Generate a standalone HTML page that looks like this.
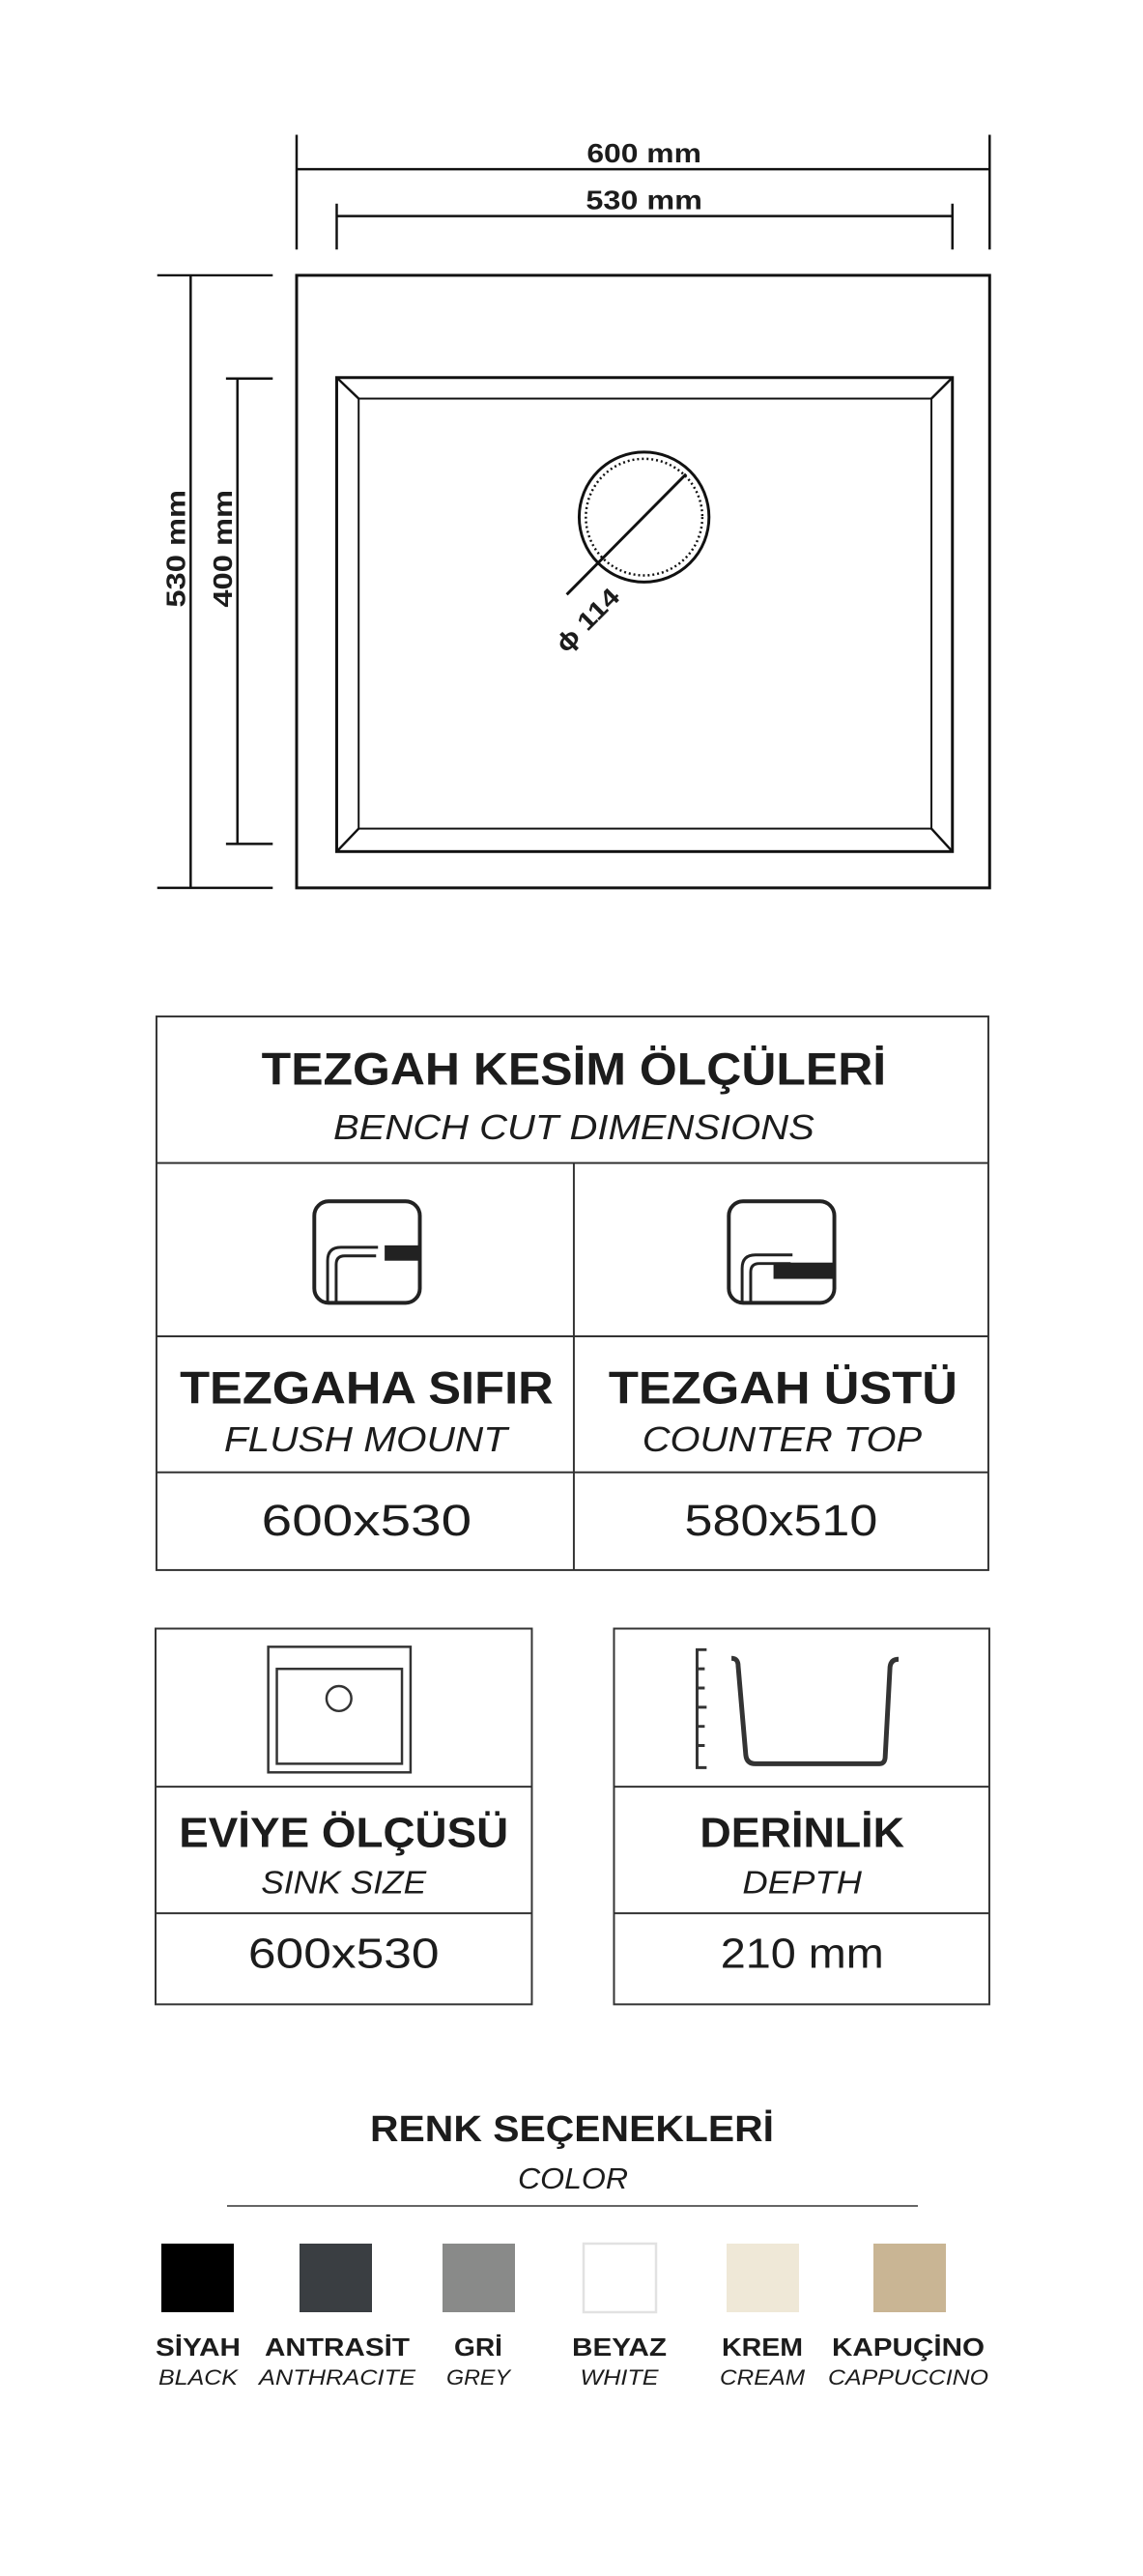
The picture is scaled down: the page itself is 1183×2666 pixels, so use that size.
<!DOCTYPE html>
<html><head><meta charset="utf-8"><style>
html,body{margin:0;padding:0;background:#fff}
svg{display:block}
text{font-family:"Liberation Sans",Arial,sans-serif;fill:#1c1c1c}
.b{font-weight:bold}
.i{font-style:italic}
</style></head><body>
<svg width="1183" height="2666" viewBox="0 0 1183 2666" xmlns="http://www.w3.org/2000/svg">
<g transform="matrix(0.988 0 0 0.989 1.7 1.1)">
<g stroke="#111" fill="none" stroke-width="2.5">
<line x1="309" y1="140" x2="309" y2="260"/>
<line x1="1035" y1="140" x2="1035" y2="260"/>
<line x1="309" y1="176" x2="1035" y2="176"/>
<line x1="351" y1="212" x2="351" y2="260"/>
<line x1="996" y1="212" x2="996" y2="260"/>
<line x1="351" y1="225" x2="996" y2="225"/>
<rect x="309" y="287" width="726" height="641" stroke-width="3"/>
<line x1="163" y1="287" x2="284" y2="287"/>
<line x1="163" y1="928" x2="284" y2="928"/>
<line x1="198" y1="287" x2="198" y2="928"/>
<line x1="235" y1="395" x2="284" y2="395"/>
<line x1="235" y1="882" x2="284" y2="882"/>
<line x1="247" y1="395" x2="247" y2="882"/>
<rect x="351" y="394" width="645" height="496" stroke-width="3"/>
<rect x="374" y="416" width="600" height="450" stroke-width="2"/>
<line x1="351" y1="394" x2="374" y2="416"/>
<line x1="996" y1="394" x2="974" y2="416"/>
<line x1="351" y1="890" x2="374" y2="866"/>
<line x1="996" y1="890" x2="974" y2="866"/>
<circle cx="673" cy="540" r="68" stroke-width="3"/>
<circle cx="673" cy="540" r="61" stroke-width="2.5" stroke-dasharray="2 3"/>
<line x1="717" y1="495" x2="592" y2="621" stroke-width="3"/>
</g>
<text class="b" x="673" y="169" font-size="28" text-anchor="middle" textLength="120" lengthAdjust="spacingAndGlyphs">600 mm</text>
<text class="b" x="673" y="218" font-size="28" text-anchor="middle" textLength="122" lengthAdjust="spacingAndGlyphs">530 mm</text>
<text class="b" font-size="28" text-anchor="middle" transform="translate(192,573) rotate(-90)" textLength="123" lengthAdjust="spacingAndGlyphs">530 mm</text>
<text class="b" font-size="28" text-anchor="middle" transform="translate(241,573) rotate(-90)" textLength="123" lengthAdjust="spacingAndGlyphs">400 mm</text>
<text class="b" font-size="26" text-anchor="middle" transform="translate(620,654) rotate(-45)" textLength="82" lengthAdjust="spacingAndGlyphs">ϕ 114</text>
</g>

<g transform="matrix(0.984 0 0 0.9913 5.5 8.1)">
<g stroke="#333" fill="none" stroke-width="2">
<rect x="159" y="1053" width="875" height="578"/>
<line x1="159" y1="1206" x2="1034" y2="1206"/>
<line x1="159" y1="1387" x2="1034" y2="1387"/>
<line x1="159" y1="1529" x2="1034" y2="1529"/>
<line x1="598" y1="1206" x2="598" y2="1631"/>
</g>
<text class="b" x="598" y="1124" font-size="48" text-anchor="middle" textLength="657" lengthAdjust="spacingAndGlyphs">TEZGAH KESİM ÖLÇÜLERİ</text>
<text class="i" x="598" y="1181" font-size="36" text-anchor="middle" textLength="506" lengthAdjust="spacingAndGlyphs">BENCH CUT DIMENSIONS</text>
<g fill="none" stroke="#222" stroke-width="4">
<rect x="325" y="1246" width="111" height="106" rx="15"/>
<rect x="761" y="1246" width="111" height="106" rx="15"/>
<path d="M339 1352 V1308 q0 -14 14 -14 H392" stroke-width="3"/>
<path d="M348 1352 V1312 q0 -9 9 -9 H390" stroke-width="3"/>
<path d="M775 1352 V1316 q0 -14 14 -14 H828" stroke-width="3"/>
<path d="M784 1352 V1320 q0 -9 9 -9 H826" stroke-width="3"/>
</g>
<rect x="399" y="1292" width="36" height="16" fill="#222"/>
<rect x="808" y="1310" width="63" height="17" fill="#222"/>
<text class="b" x="380" y="1457" font-size="48" text-anchor="middle" textLength="393" lengthAdjust="spacingAndGlyphs">TEZGAHA SIFIR</text>
<text class="b" x="818" y="1457" font-size="48" text-anchor="middle" textLength="367" lengthAdjust="spacingAndGlyphs">TEZGAH ÜSTÜ</text>
<text class="i" x="379" y="1507" font-size="36" text-anchor="middle" textLength="298" lengthAdjust="spacingAndGlyphs">FLUSH MOUNT</text>
<text class="i" x="817" y="1507" font-size="36" text-anchor="middle" textLength="294" lengthAdjust="spacingAndGlyphs">COUNTER TOP</text>
<text x="380" y="1595" font-size="46" text-anchor="middle" textLength="221" lengthAdjust="spacingAndGlyphs">600x530</text>
<text x="816" y="1595" font-size="46" text-anchor="middle" textLength="203" lengthAdjust="spacingAndGlyphs">580x510</text>
</g>

<g transform="matrix(0.9885 0 0 0.992 1.85 11)">
<g stroke="#333" fill="none" stroke-width="2">
<rect x="161" y="1688" width="394" height="392"/>
<line x1="161" y1="1853" x2="555" y2="1853"/>
<line x1="161" y1="1985" x2="555" y2="1985"/>
<rect x="641" y="1688" width="393" height="392"/>
<line x1="641" y1="1853" x2="1034" y2="1853"/>
<line x1="641" y1="1985" x2="1034" y2="1985"/>
</g>
<g fill="none" stroke="#333" stroke-width="2.5">
<rect x="279" y="1707" width="149" height="131"/>
<rect x="288" y="1730" width="131" height="99"/>
<ellipse cx="353" cy="1761" rx="13" ry="13"/>
<path d="M738 1710 H728 V1833 H738 M728 1730 H736 M728 1750 H736 M728 1770 H738 M728 1790 H736 M728 1810 H736" stroke-width="3"/>
<path d="M764 1719 q7 0 7 8 L779 1820 q1 9 10 9 H919 q6 0 6 -8 L930 1728 q1 -8 9 -8" stroke-width="5"/>
</g>
<text class="b" x="358" y="1916" font-size="44" text-anchor="middle" textLength="345" lengthAdjust="spacingAndGlyphs">EVİYE ÖLÇÜSÜ</text>
<text class="b" x="838" y="1916" font-size="44" text-anchor="middle" textLength="214" lengthAdjust="spacingAndGlyphs">DERİNLİK</text>
<text class="i" x="358" y="1964" font-size="34" text-anchor="middle" textLength="173" lengthAdjust="spacingAndGlyphs">SINK SIZE</text>
<text class="i" x="838" y="1964" font-size="34" text-anchor="middle" textLength="125" lengthAdjust="spacingAndGlyphs">DEPTH</text>
<text x="358" y="2042" font-size="44" text-anchor="middle" textLength="200" lengthAdjust="spacingAndGlyphs">600x530</text>
<text x="838" y="2042" font-size="44" text-anchor="middle" textLength="171" lengthAdjust="spacingAndGlyphs">210 mm</text>
</g>

<text class="b" x="592" y="2216" font-size="38" text-anchor="middle" textLength="418" lengthAdjust="spacingAndGlyphs">RENK SEÇENEKLERİ</text>
<text class="i" x="593" y="2265" font-size="31" text-anchor="middle" textLength="114" lengthAdjust="spacingAndGlyphs">COLOR</text>
<line x1="235" y1="2283" x2="950" y2="2283" stroke="#333" stroke-width="1.5"/>
<rect x="167" y="2322" width="75" height="71" fill="#000"/>
<rect x="310" y="2322" width="75" height="71" fill="#3a3e42"/>
<rect x="458" y="2322" width="75" height="71" fill="#898a89"/>
<rect x="604" y="2322" width="75" height="71" fill="#fff" stroke="#e2e2e2" stroke-width="2.5"/>
<rect x="752" y="2322" width="75" height="71" fill="#efe8d7"/>
<rect x="904" y="2322" width="75" height="71" fill="#c9b594"/>
<g font-size="26" text-anchor="middle">
<text class="b" x="205" y="2438" textLength="88" lengthAdjust="spacingAndGlyphs">SİYAH</text>
<text class="b" x="349" y="2438" textLength="150" lengthAdjust="spacingAndGlyphs">ANTRASİT</text>
<text class="b" x="495" y="2438" textLength="50" lengthAdjust="spacingAndGlyphs">GRİ</text>
<text class="b" x="641" y="2438" textLength="98" lengthAdjust="spacingAndGlyphs">BEYAZ</text>
<text class="b" x="789" y="2438" textLength="84" lengthAdjust="spacingAndGlyphs">KREM</text>
<text class="b" x="940" y="2438" textLength="158" lengthAdjust="spacingAndGlyphs">KAPUÇİNO</text>
</g>
<g font-size="22" text-anchor="middle">
<text class="i" x="205" y="2468" textLength="82" lengthAdjust="spacingAndGlyphs">BLACK</text>
<text class="i" x="349" y="2468" textLength="162" lengthAdjust="spacingAndGlyphs">ANTHRACITE</text>
<text class="i" x="495" y="2468" textLength="66" lengthAdjust="spacingAndGlyphs">GREY</text>
<text class="i" x="641" y="2468" textLength="81" lengthAdjust="spacingAndGlyphs">WHITE</text>
<text class="i" x="789" y="2468" textLength="88" lengthAdjust="spacingAndGlyphs">CREAM</text>
<text class="i" x="940" y="2468" textLength="166" lengthAdjust="spacingAndGlyphs">CAPPUCCINO</text>
</g>
</svg>
</body></html>
